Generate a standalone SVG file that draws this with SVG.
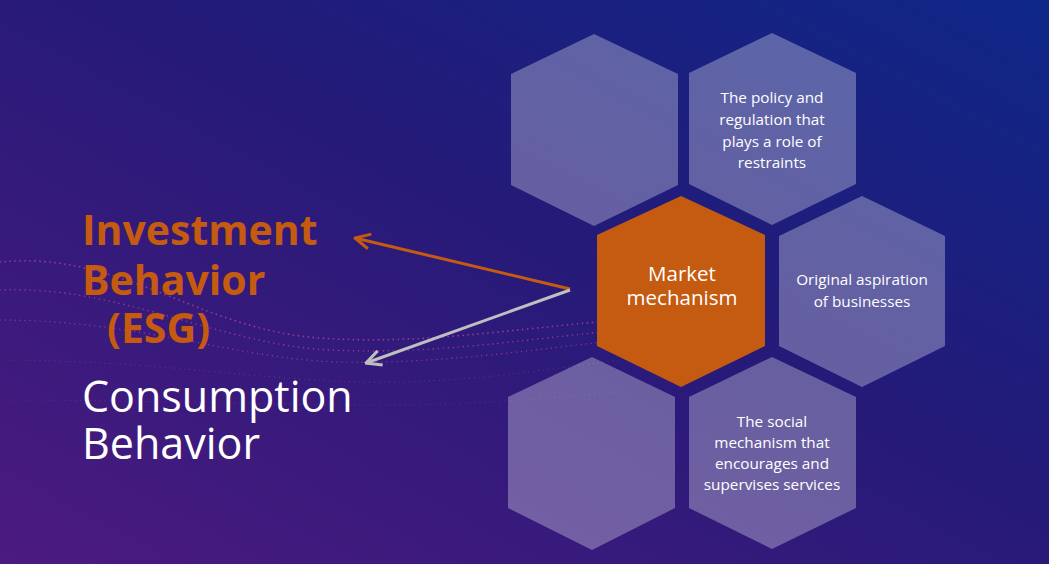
<svg xmlns="http://www.w3.org/2000/svg" width="1049" height="564" viewBox="0 0 1049 564">
  <defs>
    <linearGradient id="bg" x1="1" y1="0" x2="0" y2="1">
      <stop offset="0" stop-color="#0e2788"/>
      <stop offset="0.45" stop-color="#251a78"/>
      <stop offset="1" stop-color="#4c1a80"/>
    </linearGradient>
    <marker id="arrO" viewBox="0 0 12 12" refX="11" refY="6" markerWidth="6" markerHeight="6" markerUnits="strokeWidth" orient="auto">
      <polyline points="1,1 11,6 1,11" fill="none" stroke="#c55a11" stroke-width="2"/>
    </marker>
    <marker id="arrG" viewBox="0 0 12 12" refX="11" refY="6" markerWidth="6" markerHeight="6" markerUnits="strokeWidth" orient="auto">
      <polyline points="1,1 11,6 1,11" fill="none" stroke="#bfbfbf" stroke-width="2"/>
    </marker>
    <style>
      .hex { fill: #ffffff; fill-opacity: 0.3; }
      .hexO { fill: #c55a11; }
      .ht { font-family: "Open Sans", "Noto Sans", "Liberation Sans", sans-serif; font-size: 15.3px; fill: #ffffff; text-anchor: middle; }
      .mt { font-family: "Open Sans", "Noto Sans", "Liberation Sans", sans-serif; font-size: 20.5px; fill: #ffffff; text-anchor: middle; }
      .big { font-family: "Open Sans", "Noto Sans", "Liberation Sans", sans-serif; font-size: 41px; }
      .inv { fill: #c55a11; font-weight: bold; }
      .con { fill: #ffffff; font-size: 43px; }
      .dots { fill: none; stroke: #d5509a; stroke-linecap: round; stroke-dasharray: 0 5; }
    </style>
  </defs>
  <rect x="0" y="0" width="1049" height="564" fill="url(#bg)"/>
  <g id="decor" opacity="0.6">
    <path class="dots" stroke-width="1.8" d="M0,262 C120,250 200,330 320,338 C420,345 500,330 620,320"/>
    <path class="dots" stroke-width="1.6" d="M0,290 C120,285 220,345 330,350 C430,355 520,340 620,330"/>
    <path class="dots" stroke-width="1.4" d="M0,320 C140,320 240,360 340,362 C440,364 530,350 620,340"/>
    <path class="dots" stroke-width="1.2" opacity="0.6" d="M0,360 C150,360 260,380 360,382 C460,384 540,370 620,360"/>
    <path class="dots" stroke-width="1.2" opacity="0.5" d="M0,400 C150,400 260,405 380,405 C480,405 540,398 620,392"/>
  </g>
  <g id="hex-top-left"><polygon class="hex" points="594,34 678,74 678,185 594,226 511,185 511,74"/></g>
  <g id="hex-top-right">
    <polygon class="hex" points="772,33 856,73 856,184 772,225 689,184 689,73"/>
    <text class="ht" x="772" y="103">The policy and</text>
    <text class="ht" x="772" y="125">regulation that</text>
    <text class="ht" x="772" y="147">plays a role of</text>
    <text class="ht" x="772" y="168">restraints</text>
  </g>
  <g id="hex-center">
    <polygon class="hexO" points="681,196 765,235 765,346 681,387 597,346 597,235"/>
    <text class="mt" x="682" y="281">Market</text>
    <text class="mt" x="682" y="305">mechanism</text>
  </g>
  <g id="hex-mid-right">
    <polygon class="hex" points="862,196 945,236 945,346 862,387 779,346 779,236"/>
    <text class="ht" x="862" y="285">Original aspiration</text>
    <text class="ht" x="862" y="307">of businesses</text>
  </g>
  <g id="hex-bottom-left"><polygon class="hex" points="592,357 675,397 675,508 592,550 508,508 508,397"/></g>
  <g id="hex-bottom-right">
    <polygon class="hex" points="772,357 856,397 856,508 772,549 689,508 689,397"/>
    <text class="ht" x="772" y="427">The social</text>
    <text class="ht" x="772" y="448">mechanism that</text>
    <text class="ht" x="772" y="469">encourages and</text>
    <text class="ht" x="772" y="490">supervises services</text>
  </g>
  <g id="label-investment">
    <text class="big inv" x="82" y="245">Investment</text>
    <text class="big inv" x="82" y="295">Behavior</text>
    <text class="big inv" x="107" y="343" font-size="44">(ESG)</text>
  </g>
  <g id="label-consumption">
    <text class="big con" x="82" y="412">Consumption</text>
    <text class="big con" x="82" y="459">Behavior</text>
  </g>
  <g id="connectors" fill="none" stroke-width="3">
    <line x1="570" y1="289" x2="355" y2="238" stroke="#c55a11" marker-end="url(#arrO)"/>
    <line x1="570" y1="290" x2="366" y2="363" stroke="#bfbfbf" marker-end="url(#arrG)"/>
  </g>
</svg>
